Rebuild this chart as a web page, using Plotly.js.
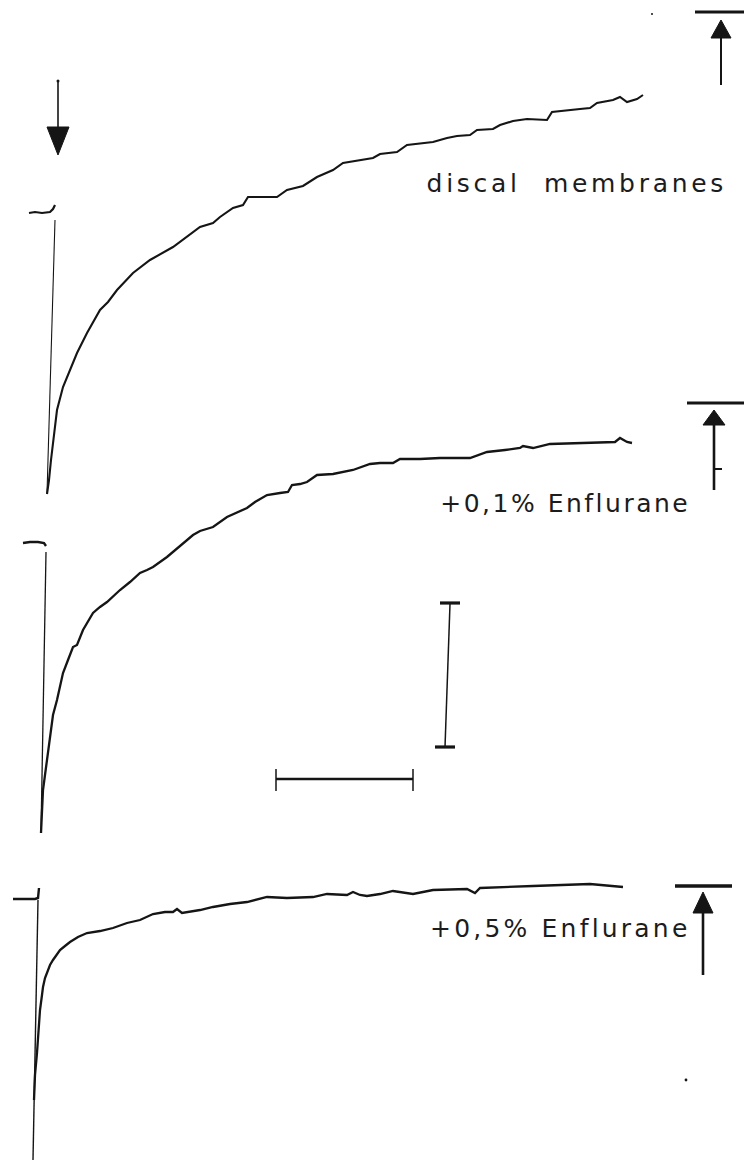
<!DOCTYPE html>
<html>
<head>
<meta charset="utf-8">
<script src="https://cdn.plot.ly/plotly-3.0.1.min.js"></script>
<style>
  html, body { margin: 0; padding: 0; background: #fff; }
  #chart { width: 744px; height: 1164px; }
  .annotation[data-index="0"] .annotation-text { letter-spacing: 3.7px; }
  .annotation[data-index="1"] .annotation-text { letter-spacing: 2.5px; }
  .annotation[data-index="2"] .annotation-text { letter-spacing: 3.2px; }
</style>
</head>
<body>
<div id="chart"></div>
<script>
// Recordings, drawn on a page-sized canvas: x = chart time, y = signal (downward deflection).
// Each recording: short pre-stimulus baseline, the fast deflection, then the slow recovery.

const labels = ['discal  membranes', '+0,1% Enflurane', '+0,5% Enflurane'];

// --- discal membranes ---
const discalBaseX = [29, 35, 42, 50, 53, 55];
const discalBaseY = [213, 212, 213, 212, 209, 205];
const discalDropX = [55, 47];
const discalDropY = [220, 494];
const discalRecX = [47, 49, 51, 53, 57, 63, 70, 77, 87, 100, 108, 117, 133, 150, 173, 180, 200, 213, 220, 233, 243, 248, 277, 287, 303, 317, 333, 343, 373, 380, 397, 407, 433, 447, 457, 470, 477, 493, 500, 513, 527, 547, 552, 580, 590, 597, 613, 620, 627, 637, 643];
const discalRecY = [494, 480, 460, 443, 410, 387, 370, 353, 333, 310, 302, 290, 273, 260, 247, 242, 227, 223, 217, 208, 205, 197, 197, 190, 186, 177, 170, 163, 158, 154, 152, 145, 142, 138, 136, 135, 130, 129, 125, 121, 119, 120, 112, 109, 108, 103, 100, 97, 102, 99, 95];

// --- +0,1% Enflurane ---
const enf01BaseX = [23, 30, 38, 44, 46];
const enf01BaseY = [543, 542, 542, 543, 546];
const enf01DropX = [46, 41];
const enf01DropY = [552, 833];
const enf01RecX = [41, 42, 43, 45, 47, 50, 53, 57, 63, 68, 73, 77, 83, 93, 100, 107, 120, 130, 140, 147, 153, 167, 183, 193, 200, 213, 227, 240, 247, 255, 267, 280, 288, 292, 300, 307, 317, 333, 345, 353, 370, 380, 393, 400, 420, 440, 470, 487, 505, 520, 523, 533, 550, 580, 600, 615, 620, 624, 627, 632];
const enf01RecY = [833, 815, 790, 775, 760, 733, 715, 700, 673, 660, 647, 645, 630, 613, 607, 602, 590, 582, 573, 570, 567, 557, 544, 535, 531, 527, 517, 511, 508, 502, 495, 493, 492, 485, 484, 482, 475, 474, 472, 470, 464, 463, 463, 459, 459, 458, 458, 452, 450, 448, 446, 448, 444, 443, 442, 442, 438, 440, 442, 443];

// --- +0,5% Enflurane ---
const enf05BaseX = [13, 25, 35, 38, 39];
const enf05BaseY = [899, 899, 899, 898, 888];
const enf05DropX = [38, 33];
const enf05DropY = [900, 1160];
const enf05RecX = [34, 35, 37, 38, 40, 42, 43, 45, 47, 50, 53, 57, 60, 65, 70, 78, 87, 100, 113, 127, 140, 153, 165, 173, 177, 182, 200, 213, 230, 247, 260, 267, 287, 313, 327, 347, 353, 360, 367, 380, 393, 400, 413, 433, 467, 475, 480, 533, 590, 623];
const enf05RecY = [1100, 1075, 1053, 1035, 1010, 995, 987, 978, 973, 965, 960, 954, 950, 946, 942, 937, 933, 931, 928, 923, 920, 914, 912, 912, 909, 913, 910, 907, 904, 902, 899, 897, 898, 897, 894, 895, 892, 895, 896, 894, 891, 892, 894, 890, 889, 893, 888, 886, 884, 887];

const INK = '#151515';

function seg(x, y, w) {
  return { x: x, y: y, type: 'scatter', mode: 'lines',
           line: { color: INK, width: w, shape: 'linear' },
           hoverinfo: 'skip', showlegend: false };
}

const traces = [
  seg(discalBaseX, discalBaseY, 2.2), seg(discalDropX, discalDropY, 1.1), seg(discalRecX, discalRecY, 2.1),
  seg(enf01BaseX, enf01BaseY, 2.4), seg(enf01DropX, enf01DropY, 1.3), seg(enf01RecX, enf01RecY, 2.3),
  seg(enf05BaseX, enf05BaseY, 2.4), seg(enf05DropX, enf05DropY, 1.4), seg(enf05RecX, enf05RecY, 2.3)
];

// Helpers for the drawn markers (arrows, level bars, scale bars)
function line(x0, y0, x1, y1, w) {
  return { type: 'line', xref: 'x', yref: 'y', x0: x0, y0: y0, x1: x1, y1: y1,
           line: { color: INK, width: w } };
}
function head(x, yBase, yTip, hw) {
  return { type: 'path', xref: 'x', yref: 'y',
           path: 'M ' + (x - hw) + ',' + yBase + ' L ' + (x + hw) + ',' + yBase + ' L ' + x + ',' + yTip + ' Z',
           fillcolor: INK, line: { color: INK, width: 1 } };
}
function dot(x, y, r) {
  return { type: 'circle', xref: 'x', yref: 'y', x0: x - r, x1: x + r, y0: y - r, y1: y + r,
           fillcolor: INK, line: { width: 0 } };
}

const shapes = [
  // stimulus arrow
  line(58, 80, 58, 130, 1.6), head(58, 127, 155, 11), dot(58, 81, 1.5),
  // level bars with upward arrows
  line(695, 12, 744, 12, 3.2), line(721, 85, 721, 36, 2), head(721, 38, 20, 10),
  line(687, 403, 744, 403, 3.2), line(714, 490, 714, 420, 2.6), head(714, 425, 410, 11), line(714, 469, 722, 469, 2),
  line(675, 886, 732, 886, 3.6), line(703, 975, 703, 911, 2.6), head(703, 913, 892, 10),
  // scale bars
  line(450, 604, 445, 747, 1.5), line(440, 603, 460, 603, 3.2), line(435, 747, 455, 747, 3.2),
  line(276, 779, 413, 779, 2.6), line(276, 769, 276, 791, 1.5), line(413, 769, 413, 791, 1.5),
  // specks
  dot(652, 14, 1), dot(686, 1080, 1.4)
];

// The spaced lettering widens each label about its centre, so the anchor points
// sit half the added width to the right of the intended left edge.
const textFont = { family: 'DejaVu Sans, sans-serif', size: 25, color: '#1c1c1c' };
const annotations = [
  { x: 456, y: 183, text: labels[0] },
  { x: 457, y: 503, text: labels[1] },
  { x: 452, y: 928, text: labels[2] }
].map(a => Object.assign(a, { xref: 'x', yref: 'y', xanchor: 'left', yanchor: 'middle',
                               showarrow: false, font: textFont }));

const layout = {
  width: 744, height: 1164,
  margin: { l: 0, r: 0, t: 0, b: 0, pad: 0 },
  paper_bgcolor: '#ffffff', plot_bgcolor: '#ffffff',
  xaxis: { range: [0, 744], visible: false, fixedrange: true },
  yaxis: { range: [1164, 0], visible: false, fixedrange: true },
  shapes: shapes,
  annotations: annotations,
  showlegend: false
};

Plotly.newPlot('chart', traces, layout, { staticPlot: true, displayModeBar: false });
</script>
</body>
</html>
